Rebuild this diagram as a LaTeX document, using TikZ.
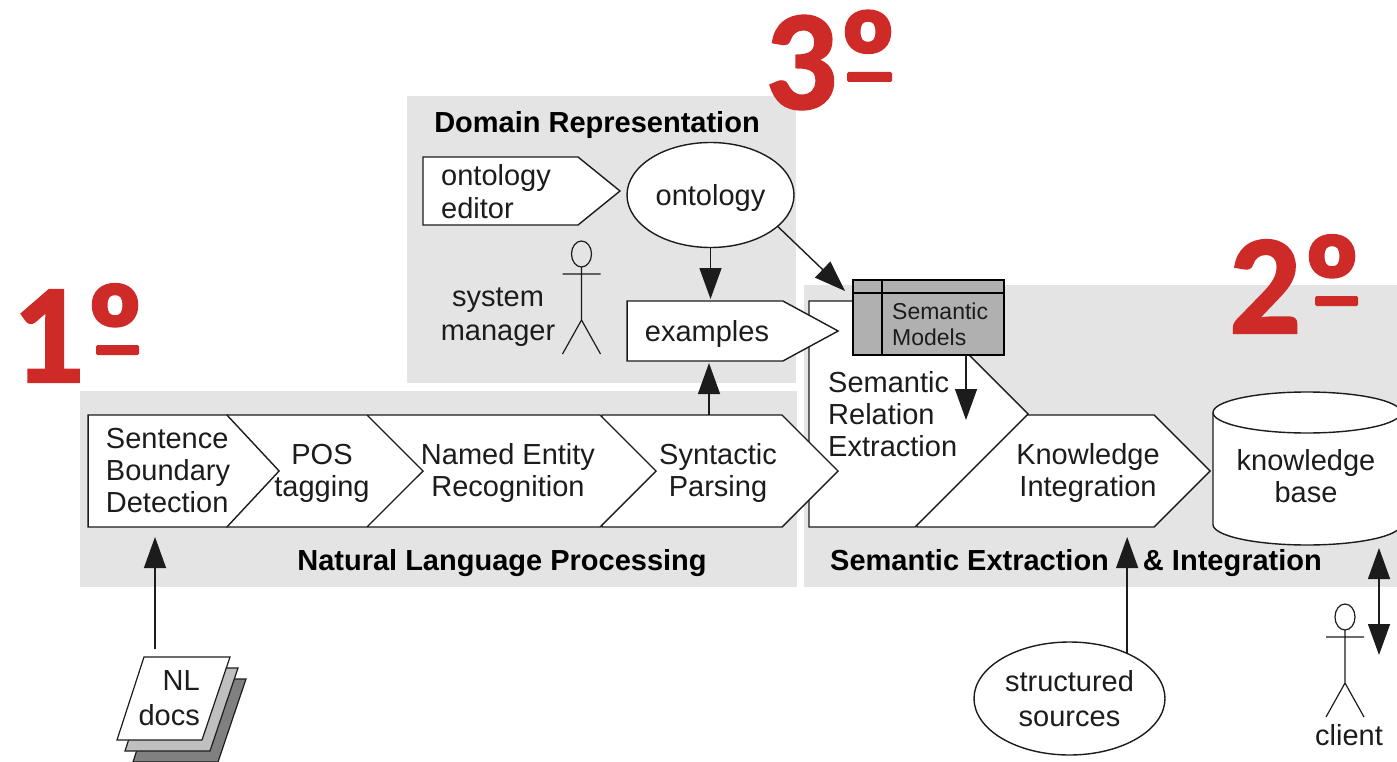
\documentclass[tikz,border=0pt]{standalone}
\usepackage{fontspec}
\setmainfont{Liberation Sans}
\newfontfamily\ordfont[BoldFeatures={FakeBold=1.5}]{Carlito}
\usetikzlibrary{calc,positioning,arrows.meta,shapes.geometric,shapes.symbols}
\definecolor{panelgray}{HTML}{E4E4E4}
\definecolor{modelgray}{HTML}{B0B0B0}
\definecolor{ordred}{HTML}{CE2A28}
\definecolor{inkgray}{HTML}{1C1C1C}
\tikzset{
    stage/.style={draw=inkgray,fill=white,line width=1.4pt,shape=signal,signal to=east,
        inner sep=0pt,outer sep=0pt},
    lbl/.style={font=\fontsize{29}{32}\selectfont,text=inkgray,inner sep=0pt,align=center},
    title/.style={font=\fontsize{29}{32}\selectfont\bfseries,text=black,inner sep=0pt},
    ord/.style={font=\fontsize{142}{142}\selectfont\ordfont\bfseries,text=ordred,inner sep=0pt},
    ordbar/.style={fill=ordred,rounded corners=1.5pt},
    oval/.style={draw=inkgray,fill=white,line width=1.4pt,ellipse,inner sep=0pt,outer sep=0pt,
        text=inkgray,align=center},
    conn/.style={draw=inkgray,line width=1.4pt},
    stickman/.pic={
        \draw[line width=1.2pt,draw=inkgray] (0,0) ellipse (10 and 13)
            (0,13) -- (0,66) (-19,20) -- (19,20)
            (-19,100) -- (0,66) -- (19,100);
    }
}
\begin{document}
\begin{tikzpicture}[x=1pt,y=-1pt,>={Triangle[length=31pt,width=22pt]}]
    \useasboundingbox (0,0) rectangle (1397,762);

    % grey panels
    \fill[panelgray] (407,96) rectangle (796,383);
    \fill[panelgray] (80,391) rectangle (797,587);
    \fill[panelgray] (804,285) rectangle (1397,587);

    % the pipeline, right to left so that each tip lies over the next one
    \node[stage,minimum width=293,minimum height=112,signal pointer angle=90] (integration) at (1035.5,471) {};
    \node[stage,minimum width=219,minimum height=226,signal pointer angle=90] (relation) at (862,414) {};
    \node[stage,minimum width=236,minimum height=112,signal pointer angle=90] (parsing) at (692,471) {};
    \node[stage,minimum width=288,minimum height=112,signal pointer angle=90] (entity) at (484,471) {};
    \node[stage,minimum width=196,minimum height=112,signal pointer angle=90] (tagging) at (297,471) {};
    \node[stage,minimum width=191,minimum height=112,signal pointer angle=94] (sentence) at (157.5,471) {};

    \node[stage,minimum width=211,minimum height=60,signal pointer angle=57] (examples) at (705,331) {};
    \node[stage,minimum width=197,minimum height=68,signal pointer angle=78] (editor) at (500.5,191) {};
    \node[oval,minimum width=167,minimum height=105,text height=27pt,font=\fontsize{29}{32}\selectfont] (ontology) at (710.5,195) {ontology};
    \node[oval,minimum width=191,minimum height=113,font=\fontsize{29}{35}\selectfont] (structured) at (1069.5,698.5) {structured\\sources};

    % knowledge base drum
    \draw[draw=inkgray,fill=white,line width=1.4pt] (1213,412.5) -- (1213,524.5)
        arc[start angle=180,end angle=0,x radius=94,y radius=20.5] -- (1401,412.5)
        arc[start angle=0,end angle=-180,x radius=94,y radius=20.5] -- cycle;
    \draw[draw=inkgray,line width=1.4pt] (1213,412.5) arc[start angle=180,end angle=0,x radius=94,y radius=20.5];

    % semantic models table
    \node[draw=black,fill=modelgray,line width=1.4pt,minimum width=151,minimum height=75,
        inner sep=0pt,outer sep=0pt] (semmodels) at (928.5,317.5) {};
    \draw[line width=1.4pt] ([xshift=29]semmodels.north west) -- ([xshift=29]semmodels.south west)
        ([yshift=-13]semmodels.north west) -- ([yshift=-13]semmodels.north east);
    \node[anchor=west,inner sep=0pt,align=left,text=inkgray,font=\fontsize{23}{26}\selectfont] (modelstext) at (892,324) {Semantic\\Models};

    % stack of documents
    \foreach \dx/\dy/\tone in {16/22/gray,8/11/lightgray,0/0/white} {
        \draw[draw=inkgray,fill=\tone,line width=1.2pt] (144+\dx,657+\dy) -- (230+\dx,657+\dy) -- (202+\dx,740+\dy) -- (117+\dx,740+\dy) -- cycle;
    };
    \node[lbl,align=right,anchor=east,font=\fontsize{29}{35}\selectfont] (docs) at (200,698) {NL\\docs};
    \coordinate (docstop) at (155,649);

    % stick figures
    \pic at (581.5,254) {stickman};
    \pic at (1345,617) {stickman};

    % texts of the shapes
    \node[lbl,align=left] (sentencetext) at (168,471) {Sentence\\Boundary\\Detection};
    \node[lbl] (taggingtext) at (322,473) {POS\\tagging};
    \node[lbl] (entitytext) at (508,473) {Named Entity\\Recognition};
    \node[lbl] (parsingtext) at (718,473) {Syntactic\\Parsing};
    \node[lbl,align=left,anchor=west] (relationtext) at (828,414) {Semantic\\Relation\\Extraction};
    \node[lbl] (integrationtext) at (1088,473) {Knowledge\\Integration};
    \node[lbl] (kbase) at (1306,476) {knowledge\\base};
    \node[lbl] (examplestext) at (707,334) {examples};
    \node[lbl,align=left,anchor=west,font=\fontsize{29}{33}\selectfont] (editortext) at (441,191.5) {ontology\\editor};
    \node[lbl,font=\fontsize{29}{34}\selectfont] (managertext) at (498,317) {system\\manager};
    \node[lbl] (clienttext) at (1349,735) {client};

    % panel titles
    \node[title] (domaintitle) at (597,125) {Domain Representation};
    \node[title] (nlptitle) at (502,563) {Natural Language Processing};
    \node[title] (seititle) at (1076,563) {Semantic Extraction\hspace{34pt}\& Integration};

    \node[ord] (first) at (79,333) {1º};
    \node[ord] (second) at (1296,284) {2º};
    \node[ord] (third) at (832,60) {3º};
    \fill[ordbar] ($(first.center)+(17,12)$) rectangle +(43,10);
    \fill[ordbar] ($(second.center)+(19,12)$) rectangle +(43,10);
    \fill[ordbar] ($(third.center)+(15,12)$) rectangle +(45,10);

    % connectors
    \coordinate (sretarget) at (966,420);
    \coordinate (clientup) at (1379,548);
    \coordinate (clientdown) at (1379,655);
    \draw[conn,->] (docstop) -- ($(docstop |- sentence.south)+(0,10)$);
    \draw[conn,->] (ontology.south) -- ($(ontology.south |- examples.north)+(0,-2)$);
    \draw[conn,->] (ontology.-25) -- ($(semmodels.north west)+(-8,11)$);
    \draw[conn,->] ($(parsing.north)+(17,0)$) -- ($(parsing.north |- examples.south)+(17,2)$);
    \draw[conn,->] (semmodels.south -| sretarget) -- (sretarget);
    \draw[conn,->] (structured.38) -- ($(structured.38 |- integration.south)+(0,10)$);
    \draw[conn,<->] (clientup) -- (clientdown);
\end{tikzpicture}
\end{document}
